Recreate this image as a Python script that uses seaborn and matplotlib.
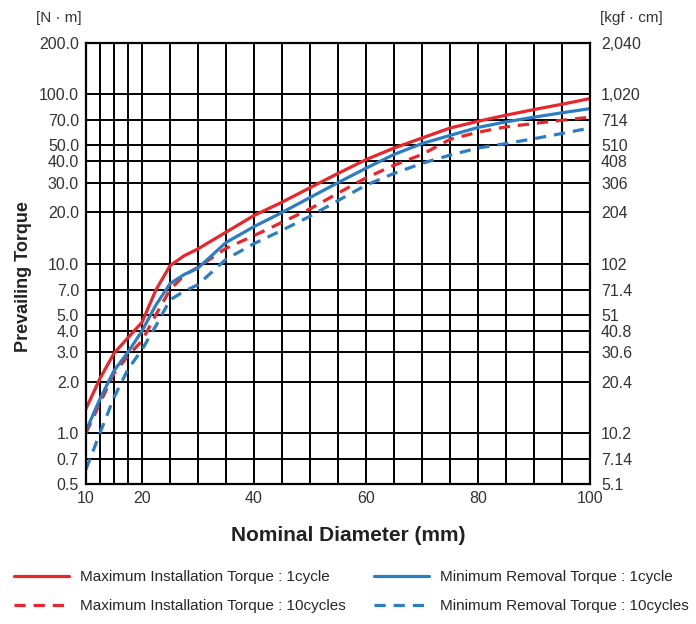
import pandas as pd
import seaborn as sns
import matplotlib.pyplot as plt
import numpy as np

# Data (nominal diameter in mm, torque in N.m)
diameter = [10, 12.5, 15, 17.5, 20, 22.5, 25, 27.5, 30, 35, 40, 45, 50,
            55, 60, 65, 70, 75, 80, 85, 90, 95, 100]
max_install_1 = [1.39, 2.1, 2.95, 3.65, 4.5, 7.0, 9.7, 11.1, 12.2, 15.3, 19.2, 23.0, 28.0,
                 34.0, 41.0, 48.0, 55.0, 63.0, 69.0, 75.0, 81.0, 87.0, 94.0]
min_removal_1 = [1.03, 1.59, 2.33, 3.0, 4.0, 5.7, 7.6, 8.6, 9.4, 13.3, 16.5, 20.0, 24.5,
                 30.0, 36.5, 44.0, 51.0, 57.0, 63.5, 68.5, 73.0, 77.5, 82.0]
max_install_10 = [1.0, 1.5, 2.25, 2.85, 3.5, 5.0, 7.0, 8.5, 9.5, 12.3, 14.6, 17.5, 21.0,
                  26.0, 32.0, 38.0, 44.0, 54.0, 59.5, 64.0, 67.0, 70.0, 73.0]
min_removal_10 = [0.61, 1.0, 1.62, 2.38, 3.1, 4.3, 6.1, 6.85, 7.5, 10.6, 13.1, 15.7, 19.0,
                  23.5, 29.0, 34.0, 39.0, 43.6, 48.0, 51.0, 54.5, 58.5, 63.0]

labels = ['Maximum Installation Torque : 1cycle',
          'Maximum Installation Torque : 10cycles',
          'Minimum Removal Torque : 1cycle',
          'Minimum Removal Torque : 10cycles']

x_grid = [10, 12.5, 15, 17.5, 20, 25, 30, 35, 40, 45, 50, 55, 60, 65, 70, 75, 80, 85, 90, 95, 100]
x_labels = [10, 20, 40, 60, 80, 100]
y_ticks = [0.5, 0.7, 1.0, 2.0, 3.0, 4.0, 5.0, 7.0, 10.0, 20.0, 30.0, 40.0, 50.0, 70.0, 100.0, 200.0]
kgf_labels = ['5.1', '7.14', '10.2', '20.4', '30.6', '40.8', '51', '71.4', '102',
              '204', '306', '408', '510', '714', '1,020', '2,040']

df = pd.DataFrame({'d': diameter, 'mi1': max_install_1, 'mi10': max_install_10,
                   'mr1': min_removal_1, 'mr10': min_removal_10})

sns.set_style('white')
plt.rcParams['font.family'] = ['Liberation Sans', 'DejaVu Sans']

red = '#e8262b'
blue = '#2b7dc4'
dash = (3.5, 2.5)

fig = plt.figure(figsize=(6.96, 6.24), dpi=100)
ax = fig.add_axes([86 / 696, 1 - 484 / 624, 504 / 696, 441 / 624])

sns.lineplot(data=df, x='d', y='mi1', ax=ax, color=red, lw=2.3, label=labels[0])
sns.lineplot(data=df, x='d', y='mi10', ax=ax, color=red, lw=2.3, label=labels[1])
sns.lineplot(data=df, x='d', y='mr1', ax=ax, color=blue, lw=2.3, label=labels[2])
sns.lineplot(data=df, x='d', y='mr10', ax=ax, color=blue, lw=2.3, label=labels[3])
ax.lines[1].set_dashes(dash)
ax.lines[3].set_dashes(dash)

ax.set_yscale('log')
ax.set_xlim(10, 100)
ax.set_ylim(0.5, 200)
ax.set_xticks(x_labels)
ax.set_xticklabels([str(v) for v in x_labels])
ax.set_xticks(x_grid, minor=True)
ax.set_yticks(y_ticks)
ax.set_yticklabels(['%.1f' % v for v in y_ticks])
ax.yaxis.set_minor_locator(plt.NullLocator())
ax.grid(True, which='both', color='black', lw=1.4)
ax.set_axisbelow(True)
ax.tick_params(axis='both', which='both', length=0, labelsize=11.5, colors='#333333', pad=5)
for s in ax.spines.values():
    s.set_color('black')
    s.set_linewidth(1.6)

ax.set_xlabel('Nominal Diameter (mm)', fontsize=15, fontweight='bold', color='#222222')
ax.xaxis.set_label_coords(0.52, -0.095)
ax.set_ylabel('Prevailing Torque', fontsize=13, fontweight='bold', color='#222222')
ax.yaxis.set_label_coords(-0.108, 0.47)

# right axis in kgf.cm
ax2 = ax.twinx()
ax2.set_yscale('log')
ax2.set_ylim(0.5, 200)
ax2.set_yticks(y_ticks)
ax2.set_yticklabels(kgf_labels)
ax2.yaxis.set_minor_locator(plt.NullLocator())
ax2.tick_params(axis='y', length=0, labelsize=11.5, colors='#333333', pad=8)
ax2.grid(False)
for s in ax2.spines.values():
    s.set_visible(False)

fig.text(36 / 696, 1 - 18 / 624, '[N · m]', fontsize=11, color='#333333', va='center')
fig.text(600 / 696, 1 - 18 / 624, '[kgf · cm]', fontsize=11, color='#333333', va='center')

handles, labs = ax.get_legend_handles_labels()
ax.get_legend().remove()
fig.legend(handles, labs, ncol=2, loc='upper left', bbox_to_anchor=(14 / 696, 1 - 570 / 624),
           frameon=False, fontsize=11, handlelength=3.6, handletextpad=0.7,
           columnspacing=1.9, labelspacing=1.0, borderpad=0, borderaxespad=0)

fig.savefig('out.png', dpi=100)
